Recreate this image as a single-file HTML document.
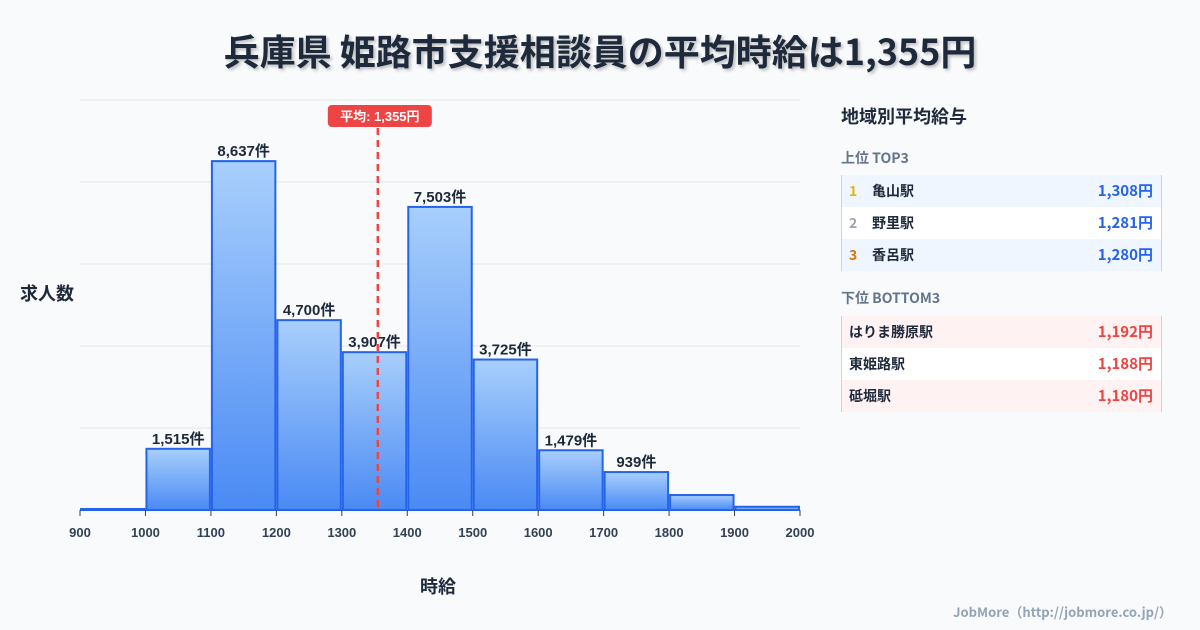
<!DOCTYPE html>
<html><head><meta charset="utf-8">
<style>
body{margin:0;width:1200px;height:630px;background:#f8fafc;font-family:"Liberation Sans","Noto Sans CJK JP",sans-serif;overflow:hidden;position:relative;color:#1e293b}
.t{position:absolute;font-family:"Noto Sans CJK JP","Liberation Sans",sans-serif}
#title{left:0;width:1200px;top:26px;text-align:center;font-size:36px;line-height:48px;font-weight:700;color:#1e293b;text-shadow:2px 2px 3px rgba(0,0,0,0.25)}
.row{position:absolute;left:841px;width:319px;height:32px;border-left:1px solid #cbd5e1;border-right:1px solid #cbd5e1;font-family:"Noto Sans CJK JP",sans-serif;font-size:14px;font-weight:700}
.row span{position:absolute;top:6px}
.row span.v{font-size:15px;top:5px}
</style></head><body>
<div class="t" id="title">兵庫県 姫路市支援相談員の平均時給は1,355円</div>
<svg id="chart" width="820" height="630" style="position:absolute;left:0;top:0">
<defs><linearGradient id="g" x1="0" y1="0" x2="0" y2="1"><stop offset="0" stop-color="#a8cffc"/><stop offset="1" stop-color="#4a8af4"/></linearGradient></defs>
<g id="grid"></g><g id="bars"></g><g id="xt"></g>
</svg>
<div class="t" style="left:20px;top:280px;font-size:18px;font-weight:700">求人数</div>
<div class="t" style="left:420px;top:573px;font-size:18px;font-weight:700">時給</div>
<div class="t" style="left:841px;top:103px;font-size:18px;font-weight:700">地域別平均給与</div>
<div class="t" style="left:841px;top:148px;font-size:14px;font-weight:700;color:#64748b">上位 TOP3</div>
<div class="row" style="top:175px;background:#eff6ff"><span style="left:7px;color:#eab308">1</span><span style="left:30px">亀山駅</span><span class="v" style="right:8px;color:#2563eb">1,308円</span></div>
<div class="row" style="top:207px;background:#fff"><span style="left:7px;color:#9ca3af">2</span><span style="left:30px">野里駅</span><span class="v" style="right:8px;color:#2563eb">1,281円</span></div>
<div class="row" style="top:239px;background:#eff6ff"><span style="left:7px;color:#d97706">3</span><span style="left:30px">香呂駅</span><span class="v" style="right:8px;color:#2563eb">1,280円</span></div>
<div class="t" style="left:841px;top:288px;font-size:14px;font-weight:700;color:#64748b">下位 BOTTOM3</div>
<div class="row" style="top:316px;background:#fef2f2"><span style="left:7px">はりま勝原駅</span><span class="v" style="right:8px;color:#ef4444">1,192円</span></div>
<div class="row" style="top:348px;background:#fff"><span style="left:7px">東姫路駅</span><span class="v" style="right:8px;color:#ef4444">1,188円</span></div>
<div class="row" style="top:380px;background:#fef2f2"><span style="left:7px">砥堀駅</span><span class="v" style="right:8px;color:#ef4444">1,180円</span></div>
<div class="t" style="right:28px;top:602px;font-size:13px;font-weight:700;color:#94a3b8">JobMore（http://jobmore.co.jp/）</div>
<script>
const binStarts=[900,1000,1100,1200,1300,1400,1500,1600,1700,1800,1900];
const counts=[25,1515,8637,4700,3907,7503,3725,1479,939,370,80];
const showLabel=[false,true,true,true,true,true,true,true,true,false,false];
const xTicks=[900,1000,1100,1200,1300,1400,1500,1600,1700,1800,1900,2000];
const avg=1355;
const yMax=10150;
const X=v=>80+(v-900)/1100*720;
const Y=v=>510-v/yMax*410;
const NS="http://www.w3.org/2000/svg";
function mk(p,tag,at){const e=document.createElementNS(NS,tag);for(const k in at)e.setAttribute(k,at[k]);p.appendChild(e);return e;}
const grid=document.getElementById('grid'),bars=document.getElementById('bars'),xt=document.getElementById('xt');
for(let i=0;i<=5;i++){const y=510-i*82;
const l=mk(grid,'line',{x1:80,x2:800,y1:y,y2:y,stroke:'#e2e8f0','stroke-width':1});

}
counts.forEach((c,i)=>{const x0=X(binStarts[i]),x1=X(binStarts[i]+100),y=Y(c);
const r=mk(bars,'rect',{x:x0+1,y:y,width:x1-x0-2,height:510-y,fill:'url(#g)',stroke:'#2563eb','stroke-width':2});


if(showLabel[i]){const t=mk(bars,'text',{x:(x0+x1)/2,y:y-5,'text-anchor':'middle','font-size':15,'font-weight':700,fill:'#1e293b','font-family':'"Liberation Sans","Noto Sans CJK JP",sans-serif'});
t.textContent=c.toLocaleString('en-US')+'件';

}});
xTicks.forEach(v=>{const x=X(v);
const l=mk(xt,'line',{x1:x,x2:x,y1:510,y2:516,stroke:'#334155','stroke-width':1});


const t=mk(xt,'text',{x:x,y:537,'text-anchor':'middle','font-size':13,'font-weight':700,fill:'#334155'});
t.textContent=v;

});
const ax=X(avg);
const al=mk(xt,'line',{x1:ax,x2:ax,y1:128,y2:510,stroke:'#ef4444','stroke-width':2.5,'stroke-dasharray':'7,5'});


const ab=mk(xt,'rect',{x:ax-50,y:105,width:104,height:22,rx:4,fill:'#ef4444'});


const at=mk(xt,'text',{x:ax+2,y:121,'text-anchor':'middle','font-size':13,'font-weight':700,fill:'#fff','font-family':'"Liberation Sans","Noto Sans CJK JP",sans-serif'});
at.textContent='平均: '+avg.toLocaleString('en-US')+'円';


</script>
</body></html>
